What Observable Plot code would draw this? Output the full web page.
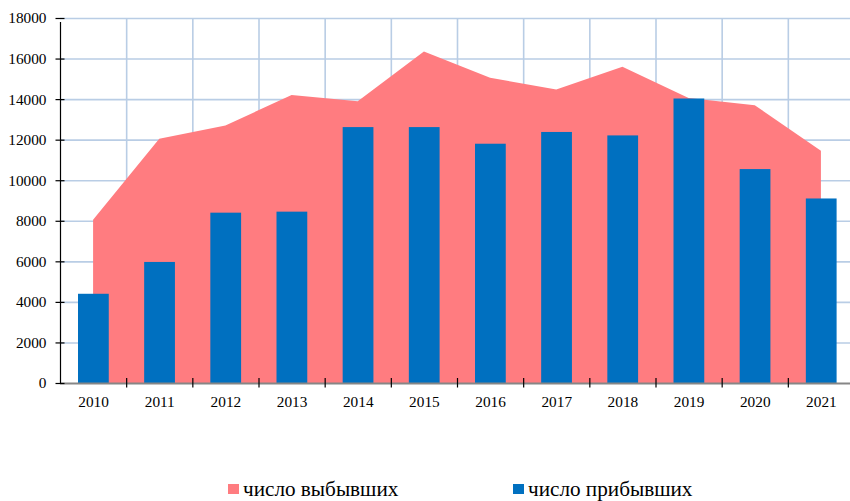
<!DOCTYPE html>
<html>
<head>
<meta charset="utf-8">
<script src="https://cdn.jsdelivr.net/npm/d3@7"></script>
<script src="https://cdn.jsdelivr.net/npm/@observablehq/plot@0.6"></script>
<style>
  html, body { margin: 0; padding: 0; background: #fff; }
  #wrap { position: relative; width: 850px; height: 501px; overflow: hidden; font-family: "Liberation Serif", "Times New Roman", serif; }
  #chart svg { display: block; }
  #chart svg text { font-family: "Liberation Serif", "Times New Roman", serif; }
  .leg { position: absolute; top: 478px; height: 22px; display: flex; align-items: center; font-size: 21.2px; color: #000; white-space: nowrap; }
  .sw { width: 11px; height: 10px; margin-right: 4px; }
</style>
</head>
<body>
<div id="wrap">
  <div id="chart"></div>
  <div class="leg" style="left:228px"><span class="sw" style="background:#ff7c80"></span>число выбывших</div>
  <div class="leg" style="left:513px"><span class="sw" style="background:#0070c0"></span>число прибывших</div>
</div>
<script>
const years = [2010, 2011, 2012, 2013, 2014, 2015, 2016, 2017, 2018, 2019, 2020, 2021];
const departed = [8050, 12050, 12700, 14200, 13900, 16350, 15050, 14480, 15600, 14050, 13700, 11450];
const arrived = [4400, 5970, 8400, 8450, 12620, 12620, 11800, 12380, 12210, 14030, 10550, 9100];
const yTicks = [0, 2000, 4000, 6000, 8000, 10000, 12000, 14000, 16000, 18000];

const data = years.map((year, i) => ({year, departed: departed[i], arrived: arrived[i]}));
const bounds = years.map(y => y - 0.5).concat([years[years.length - 1] + 0.5]);
const x0 = bounds[0];
const font = "'Liberation Serif', 'Times New Roman', serif";
const grid = "#b9cde5";

const chart = Plot.plot({
  width: 850,
  height: 430,
  marginLeft: 60,
  marginRight: -4,
  marginTop: 18,
  marginBottom: 47,
  style: {fontFamily: font, background: "#fff"},
  x: {type: "linear", domain: [bounds[0], bounds[bounds.length - 1]], axis: null},
  y: {domain: [0, 18000], axis: null},
  marks: [
    Plot.ruleY(yTicks.filter(v => v > 0), {stroke: grid, strokeWidth: 1.6}),
    Plot.ruleX(bounds.slice(1), {stroke: grid, strokeWidth: 1.6}),
    Plot.areaY(data, {x: "year", y: "departed", fill: "#ff7c80"}),
    Plot.rectY(data, {x1: d => d.year - 0.5, x2: d => d.year + 0.5, y: "arrived", fill: "#0070c0", insetLeft: 18, insetRight: 17.4}),
    Plot.ruleY([0], {stroke: "#868686", strokeWidth: 2}),
    Plot.ruleX([x0], {y1: 0, y2: 18000, stroke: "#000", strokeWidth: 1.2, insetBottom: -4}),
    Plot.ruleY(yTicks, {y: d => d, x1: x0, x2: x0, insetLeft: -4.5, insetRight: -4.5, stroke: "#000", strokeWidth: 1.2}),
    Plot.ruleX(bounds.slice(1), {x: d => d, y1: 0, y2: 0, insetTop: -5, insetBottom: -4.5, stroke: "#000", strokeWidth: 1.2}),
    Plot.text(yTicks, {x: x0, y: d => d, text: d => String(d), textAnchor: "end", dx: -14, fontSize: 15.3, fontFamily: font, fill: "#000"}),
    Plot.text(years, {x: d => d, y: 0, text: d => String(d), dy: 19, fontSize: 15.3, fontFamily: font, fill: "#000"})
  ]
});
document.getElementById("chart").appendChild(chart);
</script>
</body>
</html>
